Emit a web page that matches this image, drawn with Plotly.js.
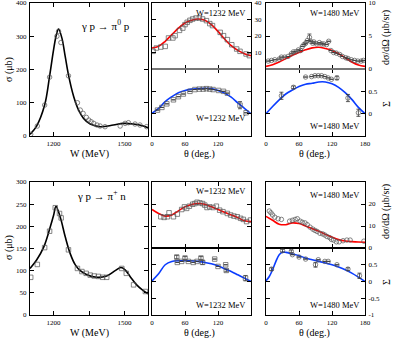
<!DOCTYPE html>
<html>
<head>
<meta charset="utf-8">
<script src="https://cdn.plot.ly/plotly-3.0.1.min.js"></script>
<style>
  body { margin: 0; background: #fff; }
  #chart { width: 393px; height: 339px; }
</style>
</head>
<body>
<div id="chart"></div>
<script>
// total cross sections vs W (MeV)
const piZeroCurveW = [1100, 1128, 1162, 1183, 1200, 1212, 1221, 1235, 1249, 1263, 1285, 1306, 1327, 1355, 1397, 1453, 1496, 1538, 1580, 1600];
const piZeroCurveSigma = [5, 30, 93, 180, 260, 305, 322, 295, 240, 184, 119, 78, 53, 36, 28, 33, 38, 36, 30, 25];
const piZeroDataW = [1103, 1131, 1162, 1183, 1214, 1221, 1231, 1263, 1301, 1313, 1325, 1339, 1349, 1359, 1370, 1384, 1397, 1418, 1482, 1503, 1517, 1545, 1566, 1594];
const piZeroDataSigma = [5, 30, 93, 177, 300, 315, 281, 181, 100, 78, 68, 56, 48, 43, 38, 33, 30, 28, 30, 38, 40, 36, 33, 28];

const piPlusCurveW = [1100, 1128, 1158, 1186, 1200, 1210, 1228, 1249, 1270, 1292, 1313, 1341, 1383, 1425, 1461, 1485, 1503, 1524, 1552, 1580, 1600];
const piPlusCurveSigma = [105, 124, 153, 199, 225, 245, 221, 177, 139, 113, 100, 91, 85, 88, 100, 107, 102, 87, 68, 55, 48];
const piPlusDataW = [1103, 1131, 1162, 1183, 1207, 1225, 1232, 1263, 1301, 1320, 1338, 1355, 1372, 1390, 1408, 1425, 1489, 1508, 1539, 1589];
const piPlusDataSigma = [85, 114, 152, 189, 242, 229, 219, 147, 105, 98, 94, 90, 88, 87, 85, 85, 105, 94, 68, 53];

// model curves vs theta (deg)
const curveTheta = [0, 12, 24, 36, 48, 60, 72, 84, 96, 108, 120, 132, 144, 156, 168, 180];
const p0DsigCurve1232 = [12.7, 13.7, 16.8, 20.8, 24.8, 27.9, 29.5, 30.3, 29.5, 26.9, 22.8, 18.2, 14.1, 11.3, 9.3, 8.1];
const p0SigmaCurve1232 = [0.01, 0.12, 0.27, 0.38, 0.47, 0.52, 0.55, 0.56, 0.57, 0.56, 0.52, 0.46, 0.37, 0.24, 0.12, 0];
const p0DsigCurve1480 = [0.4, 0.66, 1.06, 1.57, 2.07, 2.5, 2.9, 3.2, 3.3, 3.1, 2.8, 2.3, 1.7, 1.06, 0.6, 0.4];
const p0SigmaCurve1480 = [0, 0.16, 0.31, 0.44, 0.53, 0.61, 0.66, 0.68, 0.71, 0.71, 0.67, 0.59, 0.47, 0.32, 0.14, 0];
const ppDsigCurve1232 = [17.5, 15.7, 14.5, 15, 16.9, 18.7, 19.8, 20.2, 19.9, 18.7, 17.5, 16.2, 15, 13.8, 12.4, 12];
const ppSigmaCurve1232 = [0.02, 0.23, 0.5, 0.6, 0.62, 0.62, 0.62, 0.6, 0.57, 0.53, 0.47, 0.38, 0.3, 0.2, 0.1, 0];
const ppDsigCurve1480 = [14.4, 12.6, 10.8, 10.6, 11.4, 11.1, 10, 8.8, 7.6, 6.2, 5, 3.8, 3.2, 2.9, 2.7, 2.6];
const ppSigmaTheta1480 = [0, 6, 12, 18, 24, 30, 36, 48, 60, 72, 84, 96, 108, 120, 132, 144, 156, 168, 180];
const ppSigmaCurve1480 = [0.02, 0.15, 0.35, 0.6, 0.8, 0.87, 0.87, 0.82, 0.77, 0.7, 0.65, 0.6, 0.55, 0.5, 0.43, 0.35, 0.25, 0.13, 0];

// measured angular data
const p0DsigTh1232 = [2, 8, 16, 24, 30, 38, 42, 50, 56, 60, 64, 69, 74, 80, 86, 92, 99, 105, 110, 124, 130, 137, 145, 154, 160, 171, 177];
const p0DsigVal1232 = [10.7, 12.7, 13.3, 13.7, 18.8, 18.8, 20.2, 23.4, 24.8, 26.9, 28.3, 29.5, 30.3, 30.9, 30.9, 30.3, 29.3, 27.5, 26.3, 22.2, 20.2, 17.8, 14.7, 12.1, 10.7, 9.1, 8.1];
const p0SigmaTh1232 = [10, 18, 27, 39, 48, 57, 69, 78, 86, 93, 99, 105, 111, 121, 130, 137, 160, 171];
const p0SigmaVal1232 = [0.08, 0.14, 0.22, 0.31, 0.38, 0.44, 0.5, 0.54, 0.55, 0.55, 0.56, 0.55, 0.54, 0.52, 0.5, 0.46, 0.19, 0.02];
const p0SigmaErr1232 = [0, 0, 0, 0, 0, 0, 0, 0, 0, 0, 0, 0, 0, 0, 0, 0, 0.08, 0];

const p0DsigTh1480 = [4, 10, 16, 24, 28, 34, 40, 46, 50, 54, 59, 63, 66, 69, 72, 75, 79, 81, 85, 87, 92, 97, 101, 105, 110, 114, 118, 123, 128, 134, 139, 145, 149, 155, 161, 167, 173, 177];
const p0DsigVal1480 = [1.2, 1.3, 1.4, 1.5, 1.8, 1.8, 1.9, 2.3, 2.6, 2.6, 2.9, 2.8, 3.4, 3.7, 3.9, 4.3, 4.8, 4.2, 3.9, 4.1, 3.8, 4.0, 3.8, 3.8, 3.7, 4.2, 2.8, 2.5, 2.4, 2.2, 1.9, 1.7, 1.6, 1.4, 1.3, 1.2, 1.2, 1.3];
const p0DsigErr1480 = [0, 0, 0, 0, 0, 0, 0, 0, 0, 0, 0, 0, 0, 0, 0, 0, 0.5, 0, 0, 0, 0, 0, 0, 0, 0, 0, 0, 0, 0, 0, 0, 0, 0, 0, 0, 0, 0, 0];
const p0SigmaTh1480 = [28, 50, 72, 83, 89, 95, 101, 107, 113, 119, 129, 149, 168];
const p0SigmaVal1480 = [0.4, 0.59, 0.82, 0.83, 0.85, 0.85, 0.85, 0.83, 0.8, 0.77, 0.8, 0.35, 0.02];
const p0SigmaErr1480 = [0.08, 0.03, 0, 0, 0, 0, 0, 0, 0, 0, 0.04, 0.08, 0.08];

const ppDsigTh1232 = [16, 22, 28, 31, 39, 46, 54, 59, 63, 68, 74, 78, 82, 87, 92, 96, 100, 105, 111, 117, 123, 129, 137, 143, 149, 155, 161, 166, 172, 179];
const ppDsigVal1232 = [14.2, 13.9, 14.2, 16, 14.2, 15.4, 17.5, 18.7, 18, 19, 19.9, 20.2, 20.8, 20.5, 20.2, 19.5, 18.4, 18.7, 18.4, 19, 17.2, 16.5, 15.7, 15, 14.5, 14.2, 13.5, 13, 12, 12.7];
const ppSigmaTh1232 = [45, 46, 54, 60, 66, 75, 82, 89, 92, 114, 120, 134, 135, 170];
const ppSigmaVal1232 = [0.73, 0.57, 0.6, 0.7, 0.6, 0.57, 0.6, 0.7, 0.57, 0.67, 0.45, 0.5, 0.33, 0.1];
const ppSigmaErr1232 = [0.05, 0, 0, 0.05, 0, 0, 0, 0.05, 0.06, 0, 0, 0, 0.04, 0.08];

const ppDsigTh1480 = [6, 9, 12, 16, 22, 28, 43, 48, 53, 57, 62, 66, 71, 75, 80, 85, 89, 93, 98, 103, 107, 111, 116, 119, 123, 128, 133, 140, 147, 153, 178];
const ppDsigVal1480 = [16.8, 16, 15, 14, 13.3, 13, 12.2, 12.6, 13, 13.3, 12.2, 11.7, 11.4, 10.6, 9.5, 8.6, 8, 7.5, 6.7, 6.4, 5.9, 5.2, 4.7, 3.9, 3.6, 2.8, 2.8, 3.3, 3.6, 3.6, 3.1];
const ppSigmaTh1480 = [10, 30, 46, 48, 60, 72, 90, 95, 107, 113, 129, 149, 170];
const ppSigmaVal1480 = [0.37, 0.92, 0.9, 0.8, 0.73, 0.67, 0.5, 0.65, 0.6, 0.6, 0.5, 0.37, 0.17];
const ppSigmaErr1480 = [0.04, 0.04, 0.04, 0, 0, 0, 0.07, 0, 0, 0, 0, 0.04, 0.08];

const W = 393, H = 339;
const px = (x) => x / W;
const py = (y) => 1 - y / H;
const SERIF = "Liberation Serif, Times New Roman, serif";

function curve(x, y, color, n) {
  return {
    x, y, type: "scatter", mode: "lines", line: { color, width: 1.6, shape: "spline" },
    xaxis: "x" + n, yaxis: "y" + n, hoverinfo: "skip",
  };
}
function points(x, y, n, symbol, err) {
  const t = {
    x, y, type: "scatter", mode: "markers",
    marker: { symbol, size: 4.5, color: "#555", line: { width: 0.7, color: "#555" } },
    xaxis: "x" + n, yaxis: "y" + n, hoverinfo: "skip",
  };
  if (err) t.error_y = { type: "data", array: err, visible: true, thickness: 0.8, width: 2, color: "#333" };
  return t;
}

const traces = [
  curve(piZeroCurveW, piZeroCurveSigma, "#000", ""),
  points(piZeroDataW, piZeroDataSigma, "", "circle-open"),
  curve(curveTheta, p0DsigCurve1232, "#ff0000", 2),
  points(p0DsigTh1232, p0DsigVal1232, 2, "square-open"),
  curve(curveTheta, p0SigmaCurve1232, "#0a3cff", 3),
  points(p0SigmaTh1232, p0SigmaVal1232, 3, "square-open", p0SigmaErr1232),
  curve(curveTheta, p0DsigCurve1480, "#ff0000", 4),
  points(p0DsigTh1480, p0DsigVal1480, 4, "circle-open", p0DsigErr1480),
  curve(curveTheta, p0SigmaCurve1480, "#0a3cff", 5),
  points(p0SigmaTh1480, p0SigmaVal1480, 5, "circle-open", p0SigmaErr1480),
  curve(piPlusCurveW, piPlusCurveSigma, "#000", 6),
  points(piPlusDataW, piPlusDataSigma, 6, "square-open"),
  curve(curveTheta, ppDsigCurve1232, "#ff0000", 7),
  points(ppDsigTh1232, ppDsigVal1232, 7, "square-open"),
  curve(curveTheta, ppSigmaCurve1232, "#0a3cff", 8),
  points(ppSigmaTh1232, ppSigmaVal1232, 8, "square-open", ppSigmaErr1232),
  curve(curveTheta, ppDsigCurve1480, "#ff0000", 9),
  points(ppDsigTh1480, ppDsigVal1480, 9, "circle-open"),
  curve(ppSigmaTheta1480, ppSigmaCurve1480, "#0a3cff", 10),
  points(ppSigmaTh1480, ppSigmaVal1480, 10, "circle-open", ppSigmaErr1480),
];

const colL = [px(30), px(148)], colM = [px(152), px(251)], colR = [px(266), px(365)];
const topFull = [py(136), py(3)], topUp = [py(69), py(3)], topLo = [py(136), py(69)];
const botFull = [py(315), py(182)], botUp = [py(248), py(182)], botLo = [py(315), py(248)];

const base = {
  showline: true, linecolor: "#000", linewidth: 1, mirror: "ticks", ticks: "inside",
  ticklen: 4, tickcolor: "#000", showgrid: false, zeroline: false,
  ticklabeloverflow: "allow", ticklabelstandoff: 1,
  tickfont: { family: SERIF, size: 7, color: "#000" },
};
function ax(extra) { return Object.assign({}, base, extra); }

const wTicks = { range: [1100, 1600], tickvals: [1200, 1350, 1500], ticktext: ["1200", "", "1500"] };
const thMid = { range: [0, 180], tickvals: [0, 60, 120], ticktext: ["0", "60", "120"] };
const thRight = { range: [0, 180], tickvals: [0, 60, 120, 180] };
const noLab = { showticklabels: false };

const layout = {
  width: W, height: H, margin: { l: 0, r: 0, t: 0, b: 0 },
  paper_bgcolor: "#fff", plot_bgcolor: "#fff", showlegend: false,
  xaxis: ax(Object.assign({ domain: colL, anchor: "y" }, wTicks)),
  yaxis: ax({ domain: topFull, anchor: "x", range: [0, 400], tickvals: [0, 100, 200, 300, 400] }),
  xaxis2: ax(Object.assign({ domain: colM, anchor: "y2" }, thMid, noLab)),
  yaxis2: ax({ domain: topUp, anchor: "x2", side: "right", range: [0, 40], tickvals: [0, 10, 20, 30, 40], ticktext: ["", "10", "20", "30", "40"] }),
  xaxis3: ax(Object.assign({ domain: colM, anchor: "y3" }, thMid)),
  yaxis3: ax({ domain: topLo, anchor: "x3", range: [-0.5, 1], tickvals: [-0.5, 0, 0.5, 1], showticklabels: false }),
  xaxis4: ax(Object.assign({ domain: colR, anchor: "y4" }, thRight, noLab)),
  yaxis4: ax({ domain: topUp, anchor: "x4", side: "right", range: [0, 10], tickvals: [0, 5, 10] }),
  xaxis5: ax(Object.assign({ domain: colR, anchor: "y5" }, thRight)),
  yaxis5: ax({ domain: topLo, anchor: "x5", side: "right", range: [-0.5, 1], tickvals: [-0.5, 0, 0.5, 1], ticktext: ["", "0", "0.5", ""] }),
  xaxis6: ax(Object.assign({ domain: colL, anchor: "y6" }, wTicks)),
  yaxis6: ax({ domain: botFull, anchor: "x6", range: [0, 300], tickvals: [0, 50, 100, 150, 200, 250, 300] }),
  xaxis7: ax(Object.assign({ domain: colM, anchor: "y7" }, thMid, noLab)),
  yaxis7: ax({ domain: botUp, anchor: "x7", range: [0, 30], tickvals: [0, 10, 20, 30], showticklabels: false }),
  xaxis8: ax(Object.assign({ domain: colM, anchor: "y8" }, thMid)),
  yaxis8: ax({ domain: botLo, anchor: "x8", range: [-1, 1], tickvals: [-1, -0.5, 0, 0.5, 1], showticklabels: false }),
  xaxis9: ax(Object.assign({ domain: colR, anchor: "y9" }, thRight, noLab)),
  yaxis9: ax({ domain: botUp, anchor: "x9", side: "right", range: [0, 30], tickvals: [0, 10, 20, 30], ticktext: ["0", "10", "20", ""] }),
  xaxis10: ax(Object.assign({ domain: colR, anchor: "y10" }, thRight)),
  yaxis10: ax({ domain: botLo, anchor: "x10", side: "right", range: [-1, 1], tickvals: [-1, -0.5, 0, 0.5, 1], ticktext: ["-1", "-0.5", "0", "0.5", ""] }),
  shapes: [
    { type: "line", xref: "paper", yref: "paper", x0: colM[0], x1: colM[1], y0: py(69), y1: py(69), line: { color: "#777", width: 2 } },
    { type: "line", xref: "paper", yref: "paper", x0: colR[0], x1: colR[1], y0: py(69), y1: py(69), line: { color: "#777", width: 2 } },
    { type: "line", xref: "paper", yref: "paper", x0: colM[0], x1: colM[1], y0: py(248), y1: py(248), line: { color: "#000", width: 1 } },
    { type: "line", xref: "paper", yref: "paper", x0: colR[0], x1: colR[1], y0: py(248), y1: py(248), line: { color: "#000", width: 1 } },
  ],
  annotations: [],
};

function note(text, x, y, size, opts) {
  layout.annotations.push(Object.assign({
    text, xref: "paper", yref: "paper", x: px(x), y: py(y), showarrow: false,
    font: { family: SERIF, size, color: "#000" }, xanchor: "center", yanchor: "middle",
  }, opts || {}));
}

note("γ p → π<sup>0</sup> p", 105, 25, 11);
note("γ p → π<sup>+</sup> n", 101, 195, 11);
note("σ (μb)", 9, 70, 10, { textangle: -90 });
note("σ (μb)", 9, 248, 10, { textangle: -90 });
note("W (MeV)", 89, 154, 10);
note("W (MeV)", 89, 332.5, 10);
note("θ (deg.)", 199, 154, 10);
note("θ (deg.)", 314, 154, 10);
note("θ (deg.)", 199, 332.5, 10);
note("θ (deg.)", 314, 332.5, 10);
note("dσ/dΩ (μb/sr)", 386, 38, 10, { textangle: -90 });
note("dσ/dΩ (μb/sr)", 386, 212, 10, { textangle: -90 });
note("Σ", 386, 104, 10, { textangle: -90 });
note("Σ", 386, 282, 10, { textangle: -90 });
note("W=1232 MeV", 248, 13, 8.5, { xanchor: "right" });
note("W=1232 MeV", 248, 118, 8.5, { xanchor: "right" });
note("W=1480 MeV", 362, 13, 8.5, { xanchor: "right" });
note("W=1480 MeV", 362, 126, 8.5, { xanchor: "right" });
note("W=1232 MeV", 248, 191, 8.5, { xanchor: "right" });
note("W=1232 MeV", 248, 305, 8.5, { xanchor: "right" });
note("W=1480 MeV", 362, 195, 8.5, { xanchor: "right" });
note("W=1480 MeV", 362, 305, 8.5, { xanchor: "right" });

Plotly.newPlot("chart", traces, layout, { displayModeBar: false, staticPlot: true });
</script>
</body>
</html>
